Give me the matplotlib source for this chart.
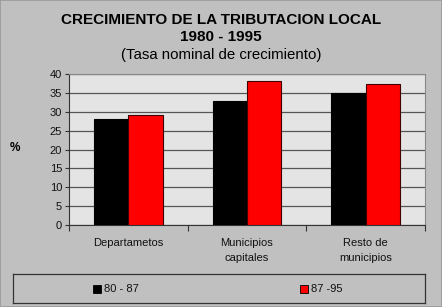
import matplotlib
matplotlib.use("Agg")
import matplotlib.pyplot as plt
import numpy as np

plt.rcParams["font.family"] = ["Liberation Sans", "DejaVu Sans"]

categories = ["Departametos", "Municipios\ncapitales", "Resto de\nmunicipios"]
series_names = ["80 - 87", "87 -95"]
v_80_87 = [28.0, 32.9, 35.0]
v_87_95 = [29.1, 38.2, 37.4]
colors = ["#000000", "#ff0000"]

W, H = 442, 307
fig = plt.figure(figsize=(W / 100, H / 100), dpi=100, facecolor="#c0c0c0")

# plot area in pixel coords
x0, x1, ytop, ybot = 69, 425, 74, 225
ax = fig.add_axes([x0 / W, 1 - ybot / H, (x1 - x0) / W, (ybot - ytop) / H])
ax.set_facecolor("#e4e4e4")

x = np.arange(len(categories))
bw = 0.29
ax.bar(x - bw / 2, v_80_87, bw, color=colors[0], edgecolor="#000000", linewidth=0.8, zorder=3)
ax.bar(x + bw / 2, v_87_95, bw, color=colors[1], edgecolor="#400000", linewidth=0.8, zorder=3)

ax.set_xlim(-0.5, len(categories) - 0.5)
ax.set_ylim(0, 40)
ax.set_yticks(range(0, 41, 5))
ax.yaxis.grid(True, color="#555555", linewidth=0.9, zorder=0)
ax.set_axisbelow(True)
ax.tick_params(axis="y", labelsize=8, length=3, color="#333333", pad=2, labelcolor="#111111")

ax.set_xticks(np.arange(-0.5, len(categories), 1.0))
ax.set_xticklabels([])
ax.tick_params(axis="x", length=4, color="#333333", direction="out")
for i, c in enumerate(categories):
    ax.text(i, -0.085, c, transform=ax.get_xaxis_transform(), ha="center", va="top",
            fontsize=8, linespacing=1.7, color="#111111")

for s in ["top", "right"]:
    ax.spines[s].set_color("#888888")
for s in ["left", "bottom"]:
    ax.spines[s].set_color("#333333")

fig.text(15 / W, 1 - 148 / H, "%", fontsize=8.5, fontweight="bold", ha="center", va="center")

fig.text(0.5, 1 - 20 / H, "CRECIMIENTO DE LA TRIBUTACION LOCAL", fontsize=11, fontweight="bold",
         ha="center", va="center")
fig.text(0.5, 1 - 37 / H, "1980 - 1995", fontsize=11, fontweight="bold", ha="center", va="center")
fig.text(0.5, 1 - 55 / H, "(Tasa nominal de crecimiento)", fontsize=10.8, ha="center", va="center")

# legend box
lx0, lx1, ly0, ly1 = 13, 425, 274, 303
lax = fig.add_axes([lx0 / W, 1 - ly1 / H, (lx1 - lx0) / W, (ly1 - ly0) / H])
lax.set_facecolor("#c0c0c0")
lax.set_xticks([]); lax.set_yticks([])
for s in lax.spines.values():
    s.set_color("#333333"); s.set_linewidth(0.9)
lax.set_xlim(lx0, lx1); lax.set_ylim(ly1, ly0)
for name, col, px in zip(series_names, colors, [93, 300]):
    lax.add_patch(plt.Rectangle((px, 285), 8, 8, facecolor=col, edgecolor="#000000", linewidth=0.6))
    lax.text(px + 11, 288.5, name, fontsize=8, va="center", ha="left", color="#111111")

fig.patches.append(plt.Rectangle((0, 0), 1, 1, transform=fig.transFigure, fill=False,
                                 edgecolor="#999999", linewidth=1.2))

fig.savefig("out.png", dpi=100, facecolor=fig.get_facecolor())
